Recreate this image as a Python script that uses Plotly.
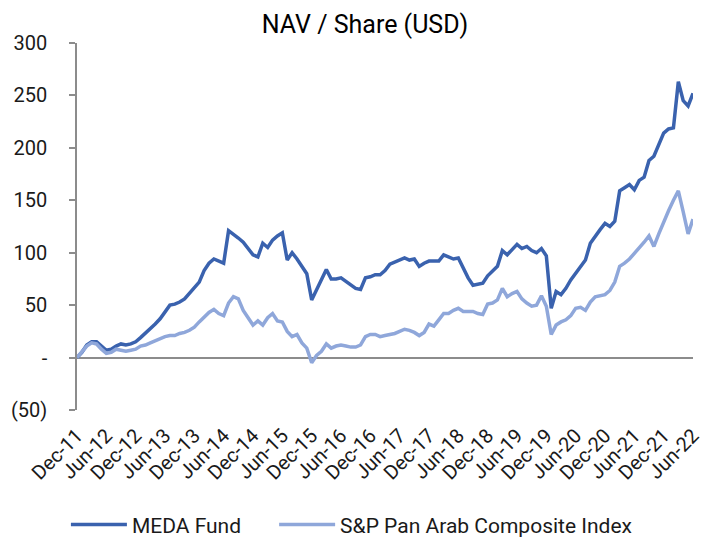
import plotly.graph_objects as go
import pandas as pd

# Monthly categories Dec-11 .. Jun-22
months = [d.strftime("%b-%y") for d in pd.date_range("2011-12-01", "2022-06-01", freq="MS")]

meda_fund = [
    0, 5, 12, 15, 15, 11, 7, 8, 11, 13,
    12, 13, 15, 19, 23, 27, 32, 37, 44, 50,
    51, 53, 56, 61, 66, 72, 83, 90, 94, 92,
    90, 121, 118, 114, 110, 104, 98, 96, 109, 105,
    112, 116, 119, 93, 100, 94, 87, 80, 55, 65,
    75, 84, 75, 75, 76, 73, 69, 66, 65, 76,
    77, 79, 79, 83, 89, 91, 93, 95, 93, 94,
    87, 90, 92, 92, 92, 98, 96, 94, 95, 86,
    76, 69, 70, 71, 78, 83, 87, 102, 98, 103,
    108, 104, 106, 102, 100, 104, 97, 47, 63, 60,
    66, 74, 80, 87, 93, 109, 116, 122, 128, 125,
    130, 159, 162, 165, 160, 169, 172, 188, 192, 203,
    214, 218, 219, 263, 245, 240, 252,
]

sp_pan_arab = [
    0, 5, 11, 14, 13, 8, 4, 5, 8, 7,
    6, 7, 8, 11, 12, 14, 16, 18, 20, 21,
    21, 23, 24, 26, 29, 34, 39, 43, 46, 42,
    40, 52, 58, 56, 45, 38, 31, 35, 31, 38,
    42, 35, 34, 25, 20, 22, 14, 9, -5, 2,
    6, 13, 9, 11, 12, 11, 10, 10, 12, 20,
    22, 22, 20, 21, 22, 23, 25, 27, 26, 24,
    21, 24, 32, 30, 36, 42, 42, 45, 47, 44,
    44, 44, 42, 41, 51, 52, 55, 66, 58, 61,
    63, 56, 52, 49, 50, 59, 49, 22, 31, 34,
    36, 40, 47, 48, 45, 53, 58, 59, 60, 64,
    72, 87, 90, 94, 99, 105, 110, 116, 106, 118,
    130, 140, 150, 159, 139, 118, 132,
]

y_tickvals = [-50, 0, 50, 100, 150, 200, 250, 300]
y_ticktext = ["(50)", "-", "50", "100", "150", "200", "250", "300"]
x_tickvals = months[::6]

DARK = "#3A62AE"
LIGHT = "#8FA7DA"
AXIS = "#8C8C8C"

fig = go.Figure()
fig.add_trace(go.Scatter(x=months, y=meda_fund, mode="lines", name="MEDA Fund",
                         line=dict(color=DARK, width=3.5), legend="legend"))
fig.add_trace(go.Scatter(x=months, y=sp_pan_arab, mode="lines", name="S&P Pan Arab Composite Index",
                         line=dict(color=LIGHT, width=3.5), legend="legend2"))

legend_common = dict(orientation="h", xanchor="left", y=-0.313, yanchor="middle",
                     font=dict(size=21), itemwidth=56, bgcolor="rgba(0,0,0,0)")

fig.update_layout(
    width=702, height=538,
    margin=dict(l=77, r=9, t=43, b=128, autoexpand=False),
    paper_bgcolor="white", plot_bgcolor="white",
    font=dict(family="Roboto", size=20, color="#1a1a1a"),
    title=dict(text="NAV / Share (USD)", x=0.52, xanchor="center", y=1 - 24 / 538, yanchor="middle",
               yref="container", font=dict(size=25, color="#000000")),
    showlegend=True,
    legend=dict(x=-0.018, **legend_common),
    legend2=dict(x=0.32, **legend_common),
)
fig.update_xaxes(
    type="category", categoryorder="array", categoryarray=months,
    range=[0, len(months) - 1], automargin=False,
    tickmode="array", tickvals=x_tickvals, ticktext=x_tickvals,
    tickangle=-45, showgrid=False, showline=False, zeroline=False, ticks="",
    tickfont=dict(size=20), ticklabelstandoff=9,
)
fig.update_yaxes(
    range=[-50, 300], tickmode="array", tickvals=y_tickvals, ticktext=y_ticktext,
    showgrid=False, showline=True, linecolor=AXIS, linewidth=1.5, automargin=False,
    ticks="outside", ticklen=6, tickcolor=AXIS, tickwidth=1.5,
    zeroline=True, zerolinecolor=AXIS, zerolinewidth=2,
    ticklabelstandoff=18, tickfont=dict(size=20),
)

fig.write_html("out.html", config={"displayModeBar": False},
               post_script="document.body.style.margin='0px';")
